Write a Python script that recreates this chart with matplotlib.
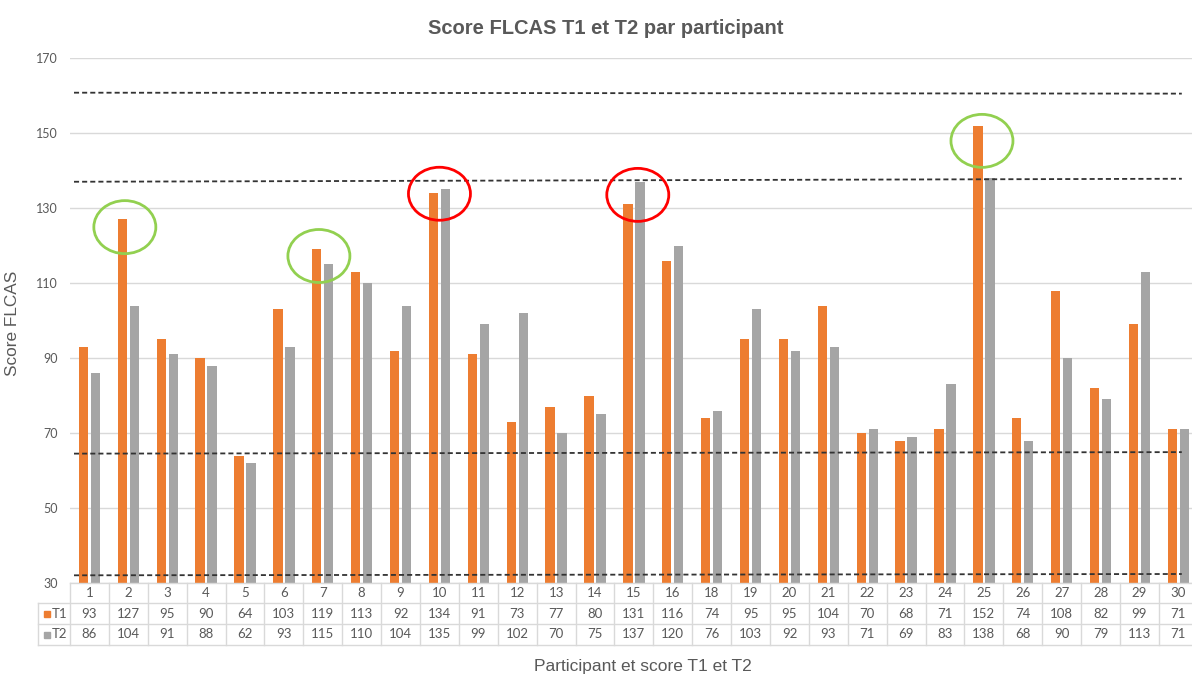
import numpy as np
import matplotlib
matplotlib.use("Agg")
import matplotlib.pyplot as plt
from matplotlib.patches import Ellipse, Rectangle
import matplotlib.transforms as mtransforms

participants = ['1', '2', '3', '4', '5', '6', '7', '8', '9', '10', '11', '12', '13', '14', '15',
                '16', '18', '19', '20', '21', '22', '23', '24', '25', '26', '27', '28', '29', '30']
t1 = [93, 127, 95, 90, 64, 103, 119, 113, 92, 134, 91, 73, 77, 80, 131,
      116, 74, 95, 95, 104, 70, 68, 71, 152, 74, 108, 82, 99, 71]
t2 = [86, 104, 91, 88, 62, 93, 115, 110, 104, 135, 99, 102, 70, 75, 137,
      120, 76, 103, 92, 93, 71, 69, 83, 138, 68, 90, 79, 113, 71]

# hand drawn dashed lines (value at left end, value at right end)
ref_lines = [(160.75, 160.5), (137.0, 137.8), (64.5, 64.9), (32.05, 32.4)]

# hand drawn circles: (participant, centre score, colour)
circles = [('2', 124.9, '#92D050'), ('7', 117.2, '#92D050'), ('25', 147.9, '#92D050'),
           ('10', 133.8, '#FF0000'), ('15', 133.5, '#FF0000')]
circle_shift = {'2': -0.09, '7': -0.1, '25': -0.05, '10': 0.0, '15': 0.1}

orange = '#ED7D31'
grey = '#A5A5A5'
txt = '#595959'
line_col = '#D9D9D9'
num_font = ['Lato', 'DejaVu Sans']

W, H = 1192, 679
fig = plt.figure(figsize=(W / 100, H / 100), dpi=100)
ax_left, ax_right, ax_top, ax_bot = 70, 1197.8, 58, 583
ax = fig.add_axes([ax_left / W, 1 - ax_bot / H, (ax_right - ax_left) / W, (ax_bot - ax_top) / H])

x = np.arange(len(participants))
bw = 0.24
off = 0.155
ax.bar(x - off, t1, bw, bottom=0, color=orange, zorder=2)
ax.bar(x + off, t2, bw, bottom=0, color=grey, zorder=2)

ax.set_xlim(-0.5, len(participants) - 0.5)
ax.set_ylim(30, 170)
ax.set_yticks(range(30, 171, 20))
ax.yaxis.grid(True, color=line_col, linewidth=1, zorder=0)
ax.set_axisbelow(True)
for s in ax.spines.values():
    s.set_visible(False)
ax.set_xticks([])
ax.tick_params(axis='y', length=0, pad=9, labelsize=9, labelcolor=txt)
for lab in ax.get_yticklabels():
    lab.set_family(num_font)

# dashed reference lines
px = 38.89
xa = -0.5 + 4 / px
xb = len(participants) - 0.5 - 16 / px
for y0, y1 in ref_lines:
    ax.plot([xa, xb], [y0, y1], linestyle=(0, (2.8, 1.7)), color='#333333', linewidth=1.3, zorder=3)

# circles
for p, cy, col in circles:
    i = participants.index(p)
    ax.add_patch(Ellipse((i + circle_shift[p], cy), 62 / px, 53 / 3.75, fill=False,
                         edgecolor=col, linewidth=2.0, zorder=4))

# data table below the axis
tr = mtransforms.blended_transform_factory(ax.transData, ax.transAxes)
ah = ax_bot - ax_top
rows = [0, -20 / ah, -41 / ah, -62 / ah]
hx = -0.5 - 32 / px
n = len(participants)
ax.plot([-0.5, n - 0.5], [rows[0], rows[0]], color=line_col, lw=1, transform=tr, clip_on=False)
for r in rows[1:]:
    ax.plot([hx, n - 0.5], [r, r], color=line_col, lw=1, transform=tr, clip_on=False)
ax.plot([hx, hx], [rows[1], rows[3]], color=line_col, lw=1, transform=tr, clip_on=False)
for k in range(n + 1):
    ax.plot([k - 0.5, k - 0.5], [rows[0], rows[3]], color=line_col, lw=1, transform=tr, clip_on=False)

centres = [(rows[i] + rows[i + 1]) / 2 for i in range(3)]
for i, p in enumerate(participants):
    ax.text(i, centres[0], p, transform=tr, ha='center', va='center', fontsize=9.5,
            color=txt, family=num_font)
    ax.text(i, centres[1], str(t1[i]), transform=tr, ha='center', va='center', fontsize=9.5,
            color=txt, family=num_font)
    ax.text(i, centres[2], str(t2[i]), transform=tr, ha='center', va='center', fontsize=9.5,
            color=txt, family=num_font)

for row, name, col in [(1, 'T1', orange), (2, 'T2', grey)]:
    sq = 6 / px
    ax.add_patch(Rectangle((hx + 6 / px, centres[row] - 3 / ah), sq, 6 / ah, transform=tr,
                           color=col, clip_on=False))
    ax.text(hx + 14 / px, centres[row], name, transform=tr, ha='left', va='center',
            fontsize=9.5, color=txt, family=num_font)

ax.set_ylabel('Score FLCAS', fontsize=12.4, color=txt, family='Liberation Sans')
ax.yaxis.set_label_coords((20 - ax_left) / (ax_right - ax_left), 0.495)

fig.text(606 / W, 1 - 28 / H, 'Score FLCAS T1 et T2 par participant', ha='center', va='center',
         fontsize=14.5, fontweight='bold', color=txt, family='Liberation Sans')
fig.text(643 / W, 1 - 667 / H, 'Participant et score T1 et T2', ha='center', va='center',
         fontsize=12.5, color=txt, family='Liberation Sans')

fig.savefig('out.png', dpi=100, facecolor='white')
